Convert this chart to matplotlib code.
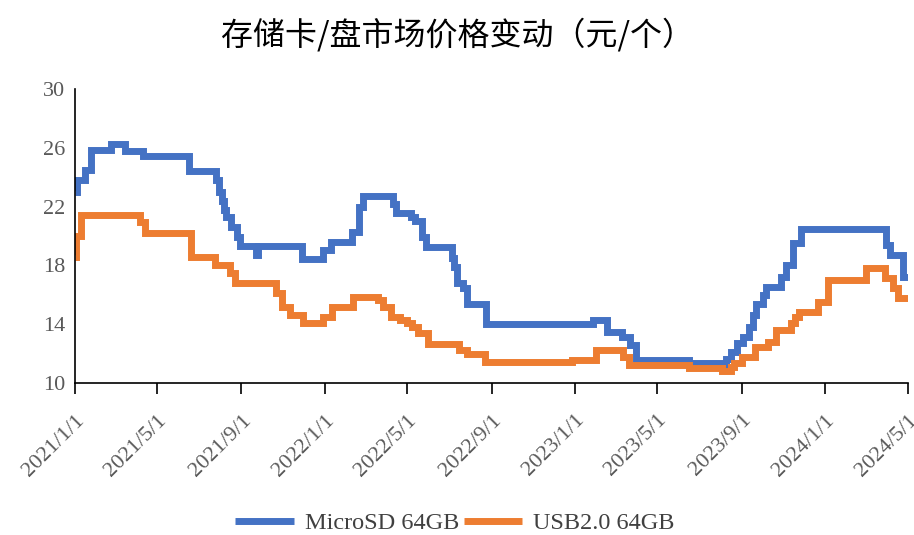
import matplotlib
matplotlib.use("Agg")
import matplotlib.pyplot as plt
import matplotlib.dates as mdates
from matplotlib.ticker import FuncFormatter, FixedLocator
import pandas as pd

# MicroSD 64GB price change points (yuan / piece)
microsd_dates = [
    "2021-01-01", "2021-01-04", "2021-01-15", "2021-01-25", "2021-02-23",
    "2021-03-15", "2021-04-10", "2021-06-17", "2021-07-26", "2021-07-30",
    "2021-08-03", "2021-08-07", "2021-08-10", "2021-08-17", "2021-08-25",
    "2021-08-30", "2021-09-22", "2021-09-25", "2021-11-28", "2021-12-29",
    "2022-01-09", "2022-02-09", "2022-02-20", "2022-02-25", "2022-04-10",
    "2022-04-15", "2022-05-07", "2022-05-12", "2022-05-22", "2022-05-29",
    "2022-07-05", "2022-07-08", "2022-07-13", "2022-07-22", "2022-07-27",
    "2022-08-24", "2023-01-27", "2023-02-17", "2023-03-10", "2023-03-22",
    "2023-03-31", "2023-06-17", "2023-08-05", "2023-08-09", "2023-08-16",
    "2023-08-25", "2023-09-03", "2023-09-12", "2023-09-18", "2023-09-22",
    "2023-10-02", "2023-10-07", "2023-10-29", "2023-11-05", "2023-11-15",
    "2023-11-27", "2024-03-30", "2024-04-04", "2024-04-24", "2024-05-01",
]
microsd_vals = [
    23.0, 23.8, 24.5, 25.85, 26.25,
    25.8, 25.45, 24.45, 23.8, 23.0,
    22.4, 21.8, 21.3, 20.6, 19.95,
    19.3, 18.7, 19.3, 18.45, 19.05,
    19.6, 20.3, 22.0, 22.7, 22.2,
    21.55, 21.3, 21.0, 19.9, 19.27,
    18.5, 17.9, 16.8, 16.45, 15.4,
    14.0, 14.3, 13.5, 13.15, 12.6,
    11.57, 11.34, 11.2, 11.6, 12.13,
    12.7, 13.15, 13.83, 14.6, 15.4,
    16.0, 16.55, 17.23, 18.0, 19.5,
    20.5, 19.4, 18.7, 17.2, 17.2,
]

# USB2.0 64GB price change points (yuan / piece)
usb_dates = [
    "2021-01-01", "2021-01-03", "2021-01-10", "2021-04-06", "2021-04-13",
    "2021-06-19", "2021-07-24", "2021-08-15", "2021-08-23", "2021-10-22",
    "2021-10-30", "2021-11-11", "2021-11-30", "2021-12-29", "2022-01-11",
    "2022-02-11", "2022-03-20", "2022-03-27", "2022-04-08", "2022-04-20",
    "2022-04-30", "2022-05-08", "2022-05-17", "2022-06-01", "2022-07-15",
    "2022-07-27", "2022-08-23", "2022-12-27", "2023-02-01", "2023-03-12",
    "2023-03-20", "2023-06-17", "2023-08-04", "2023-08-16", "2023-08-21",
    "2023-09-01", "2023-09-20", "2023-10-10", "2023-10-22", "2023-11-12",
    "2023-11-18", "2023-11-24", "2023-12-21", "2024-01-05", "2024-03-01",
    "2024-03-29", "2024-04-09", "2024-04-16", "2024-05-01",
]
usb_vals = [
    18.6, 20.0, 21.43, 20.97, 20.22,
    18.6, 18.0, 17.5, 16.78, 16.1,
    15.2, 14.6, 14.05, 14.5, 15.2,
    15.87, 15.65, 15.2, 14.5, 14.3,
    14.06, 13.83, 13.38, 12.65, 12.24,
    11.97, 11.41, 11.57, 12.24, 11.8,
    11.23, 11.04, 10.8, 11.1, 11.34,
    11.8, 12.47, 12.8, 13.6, 14.06,
    14.5, 14.85, 15.53, 17.0, 17.8,
    17.12, 16.44, 15.76, 15.76,
]

series_names = ["MicroSD 64GB", "USB2.0 64GB"]
series_colors = ["#4472C4", "#ED7D31"]
y_ticks = [10, 14, 18, 22, 26, 30]
title = "存储卡/盘市场价格变动（元/个）"

serif = "Liberation Serif"
gray = "#595959"

fig = plt.figure(figsize=(9.14, 5.35), dpi=100)
ax = fig.add_axes([75 / 914, 1 - 383 / 535, 833 / 914, 294 / 535])

for dates, vals, name, color in zip([microsd_dates, usb_dates], [microsd_vals, usb_vals],
                                    series_names, series_colors):
    ax.plot(pd.to_datetime(dates), vals, drawstyle="steps-post", color=color,
            lw=5, label=name, solid_joinstyle="miter", solid_capstyle="butt")

ax.set_xlim(pd.Timestamp("2021-01-01"), pd.Timestamp("2024-05-01"))
ax.set_ylim(10, 30)
ax.yaxis.set_major_locator(FixedLocator(y_ticks))
ax.xaxis.set_major_locator(mdates.MonthLocator(bymonth=[1, 5, 9]))
ax.xaxis.set_major_formatter(FuncFormatter(
    lambda v, pos: (lambda d: f"{d.year}/{d.month}/{d.day}")(mdates.num2date(v))))

for s in ["top", "right"]:
    ax.spines[s].set_visible(False)
for s in ["left", "bottom"]:
    ax.spines[s].set_color("black")
    ax.spines[s].set_linewidth(1.2)

ax.tick_params(axis="y", length=0, pad=7, labelsize=16, labelcolor=gray)
ax.tick_params(axis="x", direction="out", length=8, width=1.2, color="black",
               pad=12, labelsize=16, labelcolor=gray)
for lab in ax.get_yticklabels() + ax.get_xticklabels():
    lab.set_fontfamily(serif)
for lab in ax.get_xticklabels():
    lab.set_rotation(45)
    lab.set_ha("right")
    lab.set_va("top")
    lab.set_rotation_mode("anchor")

fig.text(0.5, 1 - 35 / 535, title, ha="center", va="center", fontsize=23,
         family=["Noto Sans CJK SC", "DejaVu Sans"], color="black")

leg = fig.legend(loc="center", bbox_to_anchor=(455 / 914, 1 - 523 / 535), ncol=2, frameon=False,
                 handlelength=2.4, handletextpad=0.45, columnspacing=0.2,
                 prop={"family": serif, "size": 17.5})
for t in leg.get_texts():
    t.set_color("#404040")

fig.savefig("out.png", dpi=100)
